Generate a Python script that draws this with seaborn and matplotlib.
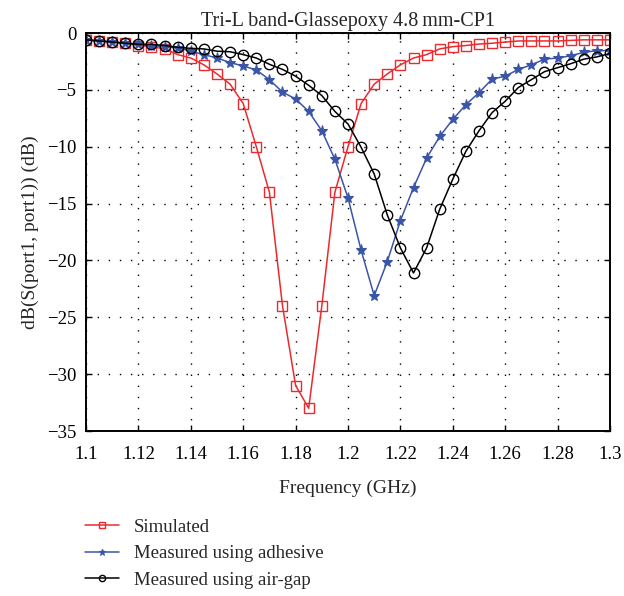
import numpy as np
import pandas as pd
import matplotlib
matplotlib.use('Agg')
import matplotlib.pyplot as plt
import seaborn as sns

# frequency points (GHz), one marker every 5 MHz
freq = [1.100, 1.105, 1.110, 1.115, 1.120, 1.125, 1.130, 1.135, 1.140, 1.145,
        1.150, 1.155, 1.160, 1.165, 1.170, 1.175, 1.180, 1.185, 1.190, 1.195,
        1.200, 1.205, 1.210, 1.215, 1.220, 1.225, 1.230, 1.235, 1.240, 1.245,
        1.250, 1.255, 1.260, 1.265, 1.270, 1.275, 1.280, 1.285, 1.290, 1.295,
        1.300]

simulated = [-0.6, -0.7, -0.77, -0.9, -1.1, -1.2, -1.4, -1.9, -2.2, -2.8,
             -3.6, -4.5, -6.2, -10.0, -14.0, -24.0, -31.0, -33.0, -24.0, -14.0,
             -10.0, -6.2, -4.5, -3.6, -2.8, -2.2, -1.9, -1.4, -1.2, -1.1,
             -0.97, -0.9, -0.8, -0.7, -0.7, -0.7, -0.7, -0.65, -0.6, -0.6,
             -0.6]

adhesive = [-0.6, -0.7, -0.8, -0.9, -1.0, -1.1, -1.2, -1.3, -1.6, -1.9,
            -2.2, -2.6, -2.9, -3.25, -4.1, -5.2, -5.8, -6.9, -8.6, -11.1,
            -14.5, -19.1, -23.1, -20.1, -16.5, -13.6, -11.0, -9.1, -7.6, -6.3,
            -5.25, -4.05, -3.8, -3.2, -2.8, -2.3, -2.2, -2.0, -1.7, -1.55,
            -1.55]

air_gap = [-0.6, -0.7, -0.8, -0.9, -1.0, -1.0, -1.1, -1.26, -1.35, -1.4,
           -1.6, -1.65, -1.9, -2.2, -2.75, -3.2, -3.8, -4.6, -5.5, -6.9,
           -8.0, -10.05, -12.4, -16.0, -18.9, -21.1, -18.9, -15.5, -12.85, -10.4,
           -8.6, -7.0, -6.0, -4.8, -4.1, -3.4, -3.05, -2.7, -2.3, -2.1,
           -1.8]

xticks = [1.10, 1.12, 1.14, 1.16, 1.18, 1.20, 1.22, 1.24, 1.26, 1.28, 1.30]
xtick_labels = ['1.1', '1.12', '1.14', '1.16', '1.18', '1.2',
                '1.22', '1.24', '1.26', '1.28', '1.3']
yticks = [0, -5, -10, -15, -20, -25, -30, -35]

RED = '#ec2a2e'
BLUE = '#3b55a6'
BLACK = '#000000'

sns.set_style('ticks')
plt.rcParams['font.family'] = ['Liberation Serif', 'DejaVu Serif']

df = pd.DataFrame({'freq': freq, 'Simulated': simulated,
                   'Measured using adhesive': adhesive,
                   'Measured using air-gap': air_gap})

fig = plt.figure(figsize=(6.24, 5.96), dpi=100)
ax = fig.add_axes([86 / 624, 1 - 431 / 596, 524 / 624, 398 / 596])

sns.lineplot(data=df, x='freq', y='Simulated', ax=ax, color=RED, lw=1.1,
             marker='s', markersize=7.5, markerfacecolor='none',
             markeredgecolor=RED, markeredgewidth=1.0, label='Simulated')
sns.lineplot(data=df, x='freq', y='Measured using adhesive', ax=ax, color=BLUE, lw=1.1,
             marker='*', markersize=8, markerfacecolor=BLUE,
             markeredgecolor=BLUE, markeredgewidth=0.8, label='Measured using adhesive')
sns.lineplot(data=df, x='freq', y='Measured using air-gap', ax=ax, color=BLACK, lw=1.1,
             marker='o', markersize=7.5, markerfacecolor='none',
             markeredgecolor=BLACK, markeredgewidth=1.0, label='Measured using air-gap')

ax.set_xlim(1.1, 1.3)
ax.set_ylim(-35, 0)
ax.set_xticks(xticks)
ax.set_xticklabels(xtick_labels)
ax.set_yticks(yticks)
ax.set_yticklabels(['0'] + ['\u2212%d' % abs(v) for v in yticks[1:]])
ax.tick_params(direction='in', top=True, right=True, length=4, width=1,
               labelsize=13.5, pad=7, colors='black')
ax.tick_params(axis='x', pad=11)
ax.grid(True, color='black', linestyle=(0, (1, 7)), linewidth=1.0)
for s in ax.spines.values():
    s.set_linewidth(1.4)
    s.set_color('black')

ax.set_xlabel('Frequency (GHz)', fontsize=14, labelpad=12)
ax.set_ylabel('dB(S(port1, port1)) (dB)', fontsize=14, labelpad=6)
ax.set_title('Tri-L band-Glassepoxy 4.8\u2009mm-CP1', fontsize=14.5, pad=5)

handles, labels = ax.get_legend_handles_labels()
ax.get_legend().remove()
fig.legend(handles, labels, loc='upper left', bbox_to_anchor=(68 / 624, 1 - 502 / 596),
           frameon=False, fontsize=13.5, handlelength=1.8, handletextpad=0.8,
           labelspacing=0.5, markerscale=0.6)

fig.savefig('out.png', dpi=100)
